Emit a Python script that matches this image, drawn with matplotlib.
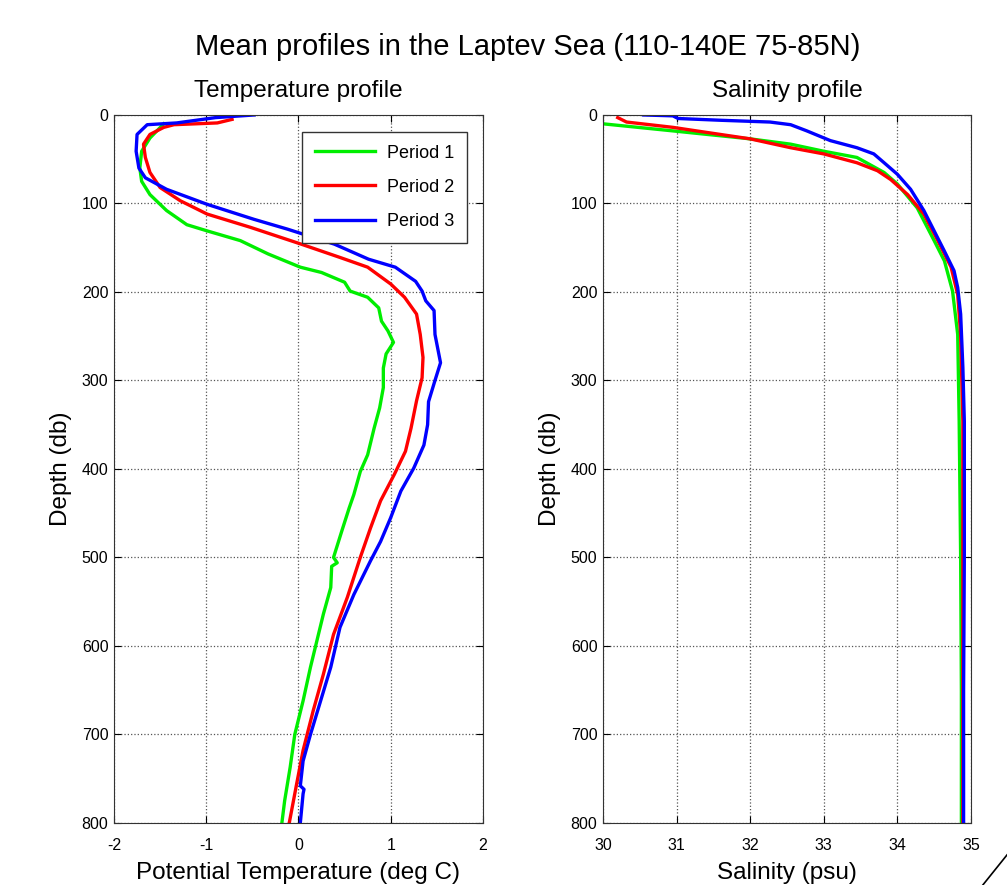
import matplotlib
matplotlib.use('Agg')
import matplotlib.pyplot as plt
from matplotlib.lines import Line2D

plt.rcParams['font.family'] = ['Liberation Sans', 'DejaVu Sans']
plt.rcParams['axes.unicode_minus'] = False

# temperature profiles (deg C) vs depth (db)
t1_depth = [10, 26, 41, 60, 75, 90, 108, 124, 131, 142, 157, 172, 178, 189, 199, 206, 218,
            233, 244, 257, 270, 286, 308, 331, 354, 384, 403, 429, 444, 470, 500, 506, 510,
            534, 564, 594, 624, 662, 700, 737, 775, 800]
t1_temp = [-1.46, -1.61, -1.70, -1.72, -1.70, -1.61, -1.43, -1.21, -0.99, -0.63, -0.33, 0.02,
           0.25, 0.50, 0.56, 0.75, 0.87, 0.90, 0.97, 1.03, 0.95, 0.92, 0.92, 0.88, 0.82, 0.75,
           0.67, 0.60, 0.55, 0.47, 0.38, 0.42, 0.36, 0.35, 0.27, 0.20, 0.13, 0.05, -0.04,
           -0.09, -0.15, -0.18]

t2_depth = [5, 9, 11, 14, 22, 33, 48, 65, 82, 97, 112, 127, 146, 161, 172, 191, 206, 225,
            248, 274, 297, 323, 354, 380, 406, 436, 467, 500, 545, 587, 632, 673, 718, 756, 800]
t2_temp = [-0.72, -0.88, -1.35, -1.46, -1.61, -1.68, -1.66, -1.61, -1.50, -1.28, -0.99, -0.52,
           0.03, 0.45, 0.75, 1.00, 1.15, 1.28, 1.32, 1.35, 1.34, 1.28, 1.22, 1.16, 1.04, 0.89,
           0.78, 0.67, 0.53, 0.38, 0.27, 0.16, 0.05, -0.02, -0.10]

t3_depth = [0, 3, 9, 11, 22, 41, 60, 71, 84, 101, 118, 129, 146, 163, 172, 188, 199, 210,
            221, 248, 280, 300, 324, 350, 373, 399, 425, 455, 482, 504, 542, 579, 624, 662,
            700, 730, 758, 762, 767, 800]
t3_temp = [-0.48, -0.90, -1.32, -1.64, -1.75, -1.76, -1.73, -1.66, -1.43, -0.99, -0.48, -0.12,
           0.39, 0.76, 1.05, 1.27, 1.34, 1.38, 1.47, 1.48, 1.54, 1.48, 1.41, 1.40, 1.36, 1.25,
           1.11, 1.00, 0.89, 0.78, 0.60, 0.45, 0.35, 0.24, 0.13, 0.05, 0.02, 0.06, 0.05, 0.02]

# salinity profiles (psu) vs depth (db)
s1_depth = [10, 18, 27, 33, 41, 48, 65, 78, 105, 142, 165, 199, 248, 346, 500, 650, 800]
s1_sal = [30.0, 30.95, 32.0, 32.55, 33.0, 33.45, 33.82, 34.0, 34.27, 34.5, 34.64, 34.75,
          34.82, 34.84, 34.86, 34.87, 34.87]

s2_depth = [3, 8, 14, 18, 27, 37, 44, 54, 63, 73, 90, 112, 142, 172, 203, 248, 346, 500,
            650, 800]
s2_sal = [30.2, 30.32, 30.95, 31.27, 32.0, 32.55, 33.0, 33.45, 33.73, 33.91, 34.14, 34.36,
          34.55, 34.73, 34.82, 34.86, 34.89, 34.89, 34.89, 34.89]

s3_depth = [0, 1, 4, 6, 8, 11, 18, 29, 37, 44, 54, 67, 84, 108, 131, 154, 176, 195, 225, 285,
            346, 500, 650, 800]
s3_sal = [30.55, 30.95, 31.02, 31.6, 32.27, 32.55, 32.77, 33.09, 33.45, 33.68, 33.82, 34.0,
          34.18, 34.36, 34.5, 34.64, 34.77, 34.82, 34.86, 34.89, 34.91, 34.91, 34.9, 34.9]

labels = ['Period 1', 'Period 2', 'Period 3']
colors = ['#00ee00', '#ff0000', '#0000ff']

fig = plt.figure(figsize=(10.07, 8.85), dpi=100)
ax1 = fig.add_axes([0.1132, 0.0701, 0.3664, 0.8])
ax2 = fig.add_axes([0.5988, 0.0701, 0.3654, 0.8])

for t, d, c, lab in zip([t1_temp, t2_temp, t3_temp], [t1_depth, t2_depth, t3_depth],
                        colors, labels):
    ax1.plot(t, d, color=c, lw=2.4, label=lab)
for s, d, c in zip([s1_sal, s2_sal, s3_sal], [s1_depth, s2_depth, s3_depth], colors):
    ax2.plot(s, d, color=c, lw=2.4)

for ax in (ax1, ax2):
    ax.set_ylim(800, 0)
    ax.set_yticks(range(0, 801, 100))
    ax.grid(True, linestyle=':', color='#555555', lw=0.9)
    ax.tick_params(direction='in', top=True, right=True, length=5, labelsize=11.5)
    ax.tick_params(axis='x', pad=11)
    ax.tick_params(axis='y', pad=4)
    for sp in ax.spines.values():
        sp.set_color('#333333')
    ax.set_ylabel('Depth (db)', fontsize=17.5, labelpad=7)

ax1.set_xlim(-2, 2)
ax1.set_xticks([-2, -1, 0, 1, 2])
ax1.set_xlabel('Potential Temperature (deg C)', fontsize=17.5, labelpad=6)
ax1.set_title('Temperature profile', fontsize=17.5, pad=13)
ax1.legend(loc='upper right', bbox_to_anchor=(0.957, 0.976), borderaxespad=0,
           fontsize=13, handlelength=3.3, fancybox=False, edgecolor='#333333',
           framealpha=1, labelspacing=0.95, borderpad=0.7, handletextpad=0.7)

ax2.set_xlim(30, 35)
ax2.set_xticks([30, 31, 32, 33, 34, 35])
ax2.set_xlabel('Salinity (psu)', fontsize=17.5, labelpad=6)
ax2.set_title('Salinity profile', fontsize=17.5, pad=13)

fig.suptitle('Mean profiles in the Laptev Sea (110-140E 75-85N)', fontsize=21,
             x=0.524, y=0.947, va='center')
fig.add_artist(Line2D([0.976, 1.0], [0.0, 0.034], color='black', lw=1.2,
                      transform=fig.transFigure))

fig.savefig('out.png', dpi=100)
